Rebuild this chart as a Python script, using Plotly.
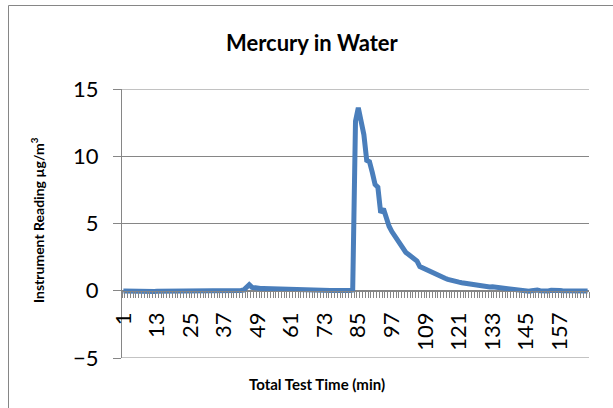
import plotly.graph_objects as go

# Instrument reading (µg/m³) for each minute of the test
values = [
    -0.02, -0.03, -0.03, -0.04, -0.04, -0.04, -0.05, -0.04, -0.04, -0.05,   # 1-10
    -0.05, -0.05, -0.04, -0.04, -0.05, -0.04, -0.03, -0.02, 0.00, 0.02,     # 11-20
    0.03, 0.02, 0.01, 0.00, 0.01, 0.00, -0.01, -0.01, 0.00, 0.01,           # 21-30
    0.00, 0.01, -0.01, 0.00, 0.00, 0.01, 0.00, -0.01, 0.00, 0.00,           # 31-40
    0.01, 0.00, 0.02, 0.05, 0.30, 0.45, 0.25, 0.20, 0.18, 0.17,             # 41-50
    0.16, 0.15, 0.14, 0.13, 0.12, 0.12, 0.10, 0.10, 0.08, 0.09,             # 51-60
    0.10, 0.08, 0.07, 0.06, 0.06, 0.07, 0.05, 0.04, 0.04, 0.03,             # 61-70
    0.03, 0.04, 0.02, 0.02, 0.01, 0.01, 0.00, 0.00, 0.01, 0.00,             # 71-80
    0.00, 0.02, 0.05, 12.6, 13.6, 12.4, 11.6, 9.7, 9.6, 8.8,                # 81-90
    7.9, 7.7, 5.8, 6.1, 5.3, 4.8, 4.4, 4.1, 3.8, 3.4,                       # 91-100
    3.1, 2.85, 2.7, 2.5, 2.3, 2.2, 1.8, 1.7, 1.6, 1.45,                     # 101-110
    1.35, 1.25, 1.15, 1.05, 1.0, 0.93, 0.85, 0.78, 0.72, 0.68,              # 111-120
    0.64, 0.60, 0.56, 0.52, 0.50, 0.46, 0.42, 0.40, 0.36, 0.33,             # 121-130
    0.30, 0.28, 0.30, 0.27, 0.22, 0.20, 0.18, 0.15, 0.12, 0.10,             # 131-140
    0.08, 0.05, 0.03, 0.00, -0.03, -0.04, 0.00, 0.05, 0.05, 0.00,           # 141-150
    -0.03, -0.04, -0.02, 0.03, 0.05, 0.04, 0.02, 0.00, 0.00, 0.01,          # 151-160
    0.00, 0.00, 0.01, 0.02, 0.05, 0.02, -0.02,                              # 161-167
]
minutes = list(range(1, len(values) + 1))
label_minutes = [1, 13, 25, 37, 49, 61, 73, 85, 97, 109, 121, 133, 145, 157]
y_ticks = [-5, 0, 5, 10, 15]

title_text = "Mercury in Water"
x_title = "Total Test Time (min)"
y_title = "Instrument Reading µg/m<sup>3</sup>"

FONT = "Lato"
GRAY = "#868686"

# plot area in page pixels: x 122..589, y 89..358
def px(xp):
    return (xp - 122) / 467

def py(yp):
    return (358 - yp) / 269

fig = go.Figure(
    go.Scatter(
        x=minutes, y=values, mode="lines",
        line=dict(color="#4A7EBB", width=5),
        hoverinfo="skip",
    )
)

edge_lines = [
    dict(type="line", xref="paper", yref="y", x0=0, x1=1, y0=v, y1=v,
         line=dict(color=GRAY, width=1), layer="below")
    for v in (y_ticks[0], y_ticks[-1])
]

fig.update_layout(
    width=613, height=408,
    margin=dict(l=122, r=24, t=89, b=50, autoexpand=False),
    paper_bgcolor="white", plot_bgcolor="white",
    showlegend=False,
    font=dict(family=FONT, color="black"),
    xaxis=dict(
        range=[0.5, len(values) + 0.5],
        tickmode="array", tickvals=label_minutes,
        ticktext=[str(v) for v in label_minutes],
        tickangle=-90, ticks="", showgrid=False, zeroline=False,
        showline=True, linecolor=GRAY, linewidth=1,
        anchor="free", position=0.25, automargin=False,
        tickfont=dict(size=22, family=FONT),
        ticklabelstandoff=12,
        minor=dict(ticks="outside", ticklen=6, tickcolor=GRAY, tickwidth=1,
                   tick0=0.5, dtick=1, showgrid=False),
    ),
    yaxis=dict(
        range=[-5, 15], tickmode="array", tickvals=y_ticks,
        showgrid=True, gridcolor=GRAY, gridwidth=1, zeroline=False,
        showline=True, linecolor=GRAY, linewidth=1, automargin=False,
        ticks="outside", ticklen=8, tickcolor=GRAY,
        tickfont=dict(size=22, family=FONT),
        ticklabelstandoff=10,
    ),
    shapes=[
        dict(type="rect", xref="paper", yref="paper",
             x0=px(8.5), x1=px(640), y0=py(430), y1=py(5.5),
             line=dict(color=GRAY, width=1), fillcolor="rgba(0,0,0,0)",
             layer="below"),
    ] + edge_lines,
    annotations=[
        dict(text="<b>" + title_text + "</b>", xref="paper", yref="paper",
             x=px(312), y=py(42), xanchor="center", yanchor="middle",
             showarrow=False, font=dict(size=22, family=FONT)),
        dict(text="<b>" + x_title + "</b>", xref="paper", yref="paper",
             x=px(317), y=py(384), xanchor="center", yanchor="middle",
             showarrow=False, font=dict(size=15, family=FONT)),
        dict(text="<b>" + y_title + "</b>", xref="paper", yref="paper",
             x=px(37), y=py(220), xanchor="center", yanchor="middle",
             textangle=-90, showarrow=False, font=dict(size=14, family=FONT)),
    ],
)

fig.write_html(
    "out.html",
    config={"displayModeBar": False, "staticPlot": True},
    post_script="document.body.style.margin='0';",
)
